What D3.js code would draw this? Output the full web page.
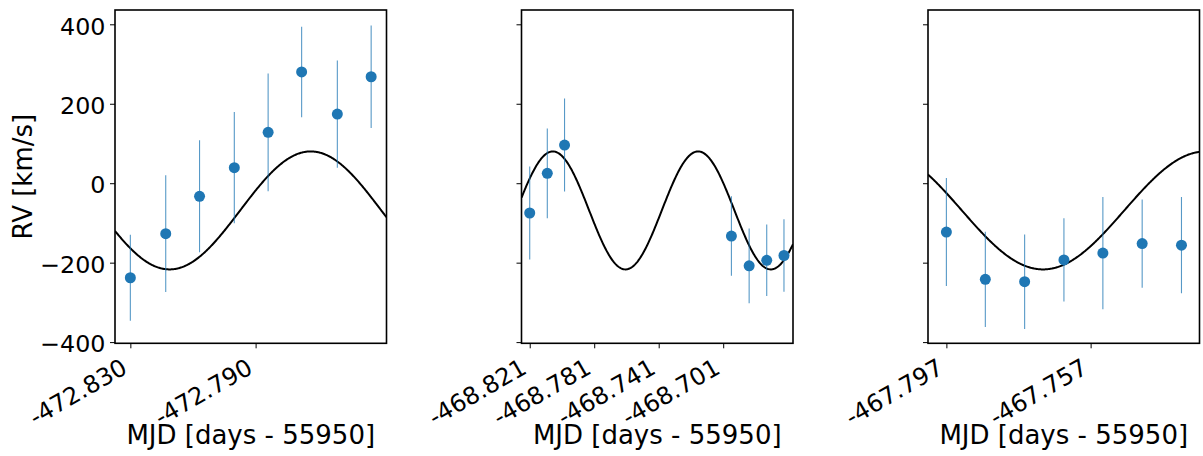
<!DOCTYPE html>
<html>
<head>
<meta charset="utf-8">
<script src="https://cdn.jsdelivr.net/npm/d3@7"></script>
<style>
  html, body { margin: 0; padding: 0; background: #fff; }
  svg { display: block; }
  text { font-family: "DejaVu Sans", sans-serif; fill: #000; }
</style>
</head>
<body>
<svg id="chart" width="1203" height="456"></svg>
<script>
// ---------- data ----------
// Panel 1
const t1   = [-472.830, -472.8187, -472.8079, -472.7968, -472.7860, -472.7753, -472.7639, -472.7531];
const rv1  = [-238, -127, -33, 39, 128, 280, 174, 268];
const err1 = [108, 147, 141, 140, 148, 114, 135, 129];
const ticks1 = [-472.830, -472.790];
const xlim1 = [-472.8349, -472.7482];

// Panel 2
const t2   = [-468.821, -468.8101, -468.7994, -468.6959, -468.6849, -468.6740, -468.6633];
const rv2  = [-75, 25, 96, -133, -208, -194, -182];
const err2 = [117, 113, 117, 100, 94, 90, 91];
const ticks2 = [-468.821, -468.781, -468.741, -468.701];
const xlim2 = [-468.8261, -468.6577];

// Panel 3
const t3   = [-467.797, -467.7862, -467.7753, -467.7644, -467.7536, -467.7427, -467.7318];
const rv3  = [-123, -242, -248, -193, -176, -152, -156];
const err3 = [136, 120, 119, 105, 141, 111, 121];
const ticks3 = [-467.797, -467.757];
const xlim3 = [-467.8021, -467.7268];

// Shared y axis
const yTicks = [-400, -200, 0, 200, 400];
const ylim = [-403, 436];

// Sinusoidal RV model parameters
const modelGamma = -68.5;    // km/s
const modelK     = 148.5;    // km/s
const modelP     = 0.09013;  // days
const modelTpeak = -472.7724;

const xLabel = "MJD [days - 55950]";
const yLabel = "RV [km/s]";

// ---------- layout ----------
const svg = d3.select("#chart");
const plotTop = 10, plotBottom = 343.3;
const panelW = 271.5;
const lefts = [115, 521.5, 928];
const tickFont = 23.8, xTickFont = 24, labelFont = 26;
const tickLen = 5, tickPad = 4.5;
const blue = "#1f77b4";

const y = d3.scaleLinear().domain(ylim).range([plotBottom, plotTop]);

const fmtX = d => d.toFixed(3);  // plain hyphen-minus, as in the reference

const panels = [
  {t: t1, rv: rv1, err: err1, ticks: ticks1, xlim: xlim1},
  {t: t2, rv: rv2, err: err2, ticks: ticks2, xlim: xlim2},
  {t: t3, rv: rv3, err: err3, ticks: ticks3, xlim: xlim3}
];

function model(t) {
  return modelGamma + modelK * Math.cos(2 * Math.PI * (t - modelTpeak) / modelP);
}

panels.forEach((p, i) => {
  const L = lefts[i], R = L + panelW;
  const x = d3.scaleLinear().domain(p.xlim).range([L, R]);
  const g = svg.append("g");

  const clipId = "clip" + i;
  svg.append("clipPath").attr("id", clipId)
    .append("rect").attr("x", L).attr("y", plotTop).attr("width", panelW).attr("height", plotBottom - plotTop);

  // model curve
  const n = 400;
  const ts = d3.range(n + 1).map(k => p.xlim[0] + (p.xlim[1] - p.xlim[0]) * k / n);
  g.append("path")
    .attr("clip-path", `url(#${clipId})`)
    .attr("d", d3.line().x(d => x(d)).y(d => y(model(d)))(ts))
    .attr("fill", "none").attr("stroke", "#000").attr("stroke-width", 2);

  // error bars
  const idx = d3.range(p.t.length);
  g.append("g").attr("clip-path", `url(#${clipId})`).selectAll("line").data(idx).join("line")
    .attr("x1", k => x(p.t[k])).attr("x2", k => x(p.t[k]))
    .attr("y1", k => y(p.rv[k] - p.err[k])).attr("y2", k => y(p.rv[k] + p.err[k]))
    .attr("stroke", blue).attr("stroke-width", 1.1).attr("stroke-opacity", 0.75);

  // points
  g.append("g").attr("clip-path", `url(#${clipId})`).selectAll("circle").data(idx).join("circle")
    .attr("cx", k => x(p.t[k])).attr("cy", k => y(p.rv[k]))
    .attr("r", 5.5).attr("fill", blue);

  // frame
  g.append("rect").attr("x", L).attr("y", plotTop).attr("width", panelW).attr("height", plotBottom - plotTop)
    .attr("fill", "none").attr("stroke", "#000").attr("stroke-width", 1.6);

  // y ticks
  const yAxis = d3.axisLeft(y).tickValues(yTicks).tickSize(tickLen).tickPadding(tickPad)
    .tickFormat(i === 0 ? (d => (d < 0 ? "\u2212" + Math.abs(d) : String(d))) : () => "");
  const ya = g.append("g").attr("transform", `translate(${L},0)`).call(yAxis);
  ya.select(".domain").remove();
  ya.selectAll(".tick line").attr("stroke", "#000").attr("stroke-width", 1);
  ya.selectAll(".tick text").attr("font-size", tickFont).attr("font-family", "DejaVu Sans")
    .attr("dy", "0.41em").attr("fill", "#000");

  // x ticks
  const xAxis = d3.axisBottom(x).tickValues(p.ticks).tickSize(tickLen).tickFormat("");
  const xa = g.append("g").attr("transform", `translate(0,${plotBottom})`).call(xAxis);
  xa.select(".domain").remove();
  xa.selectAll(".tick line").attr("stroke", "#000").attr("stroke-width", 1);

  // rotated x tick labels (30°, right aligned at the tick)
  g.append("g").selectAll("text").data(p.ticks).join("text")
    .attr("transform", d => `translate(${x(d) - 1.5},${plotBottom + 29}) rotate(-30)`)
    .attr("text-anchor", "end")
    .attr("font-size", xTickFont)
    .text(d => fmtX(d));

  // x label
  g.append("text")
    .attr("x", (L + R) / 2).attr("y", 444)
    .attr("text-anchor", "middle").attr("font-size", labelFont)
    .text(xLabel);
});

// y label
svg.append("text")
  .attr("transform", `translate(32,${(plotTop + plotBottom) / 2}) rotate(-90)`)
  .attr("text-anchor", "middle").attr("font-size", labelFont)
  .text(yLabel);
</script>
</body>
</html>
